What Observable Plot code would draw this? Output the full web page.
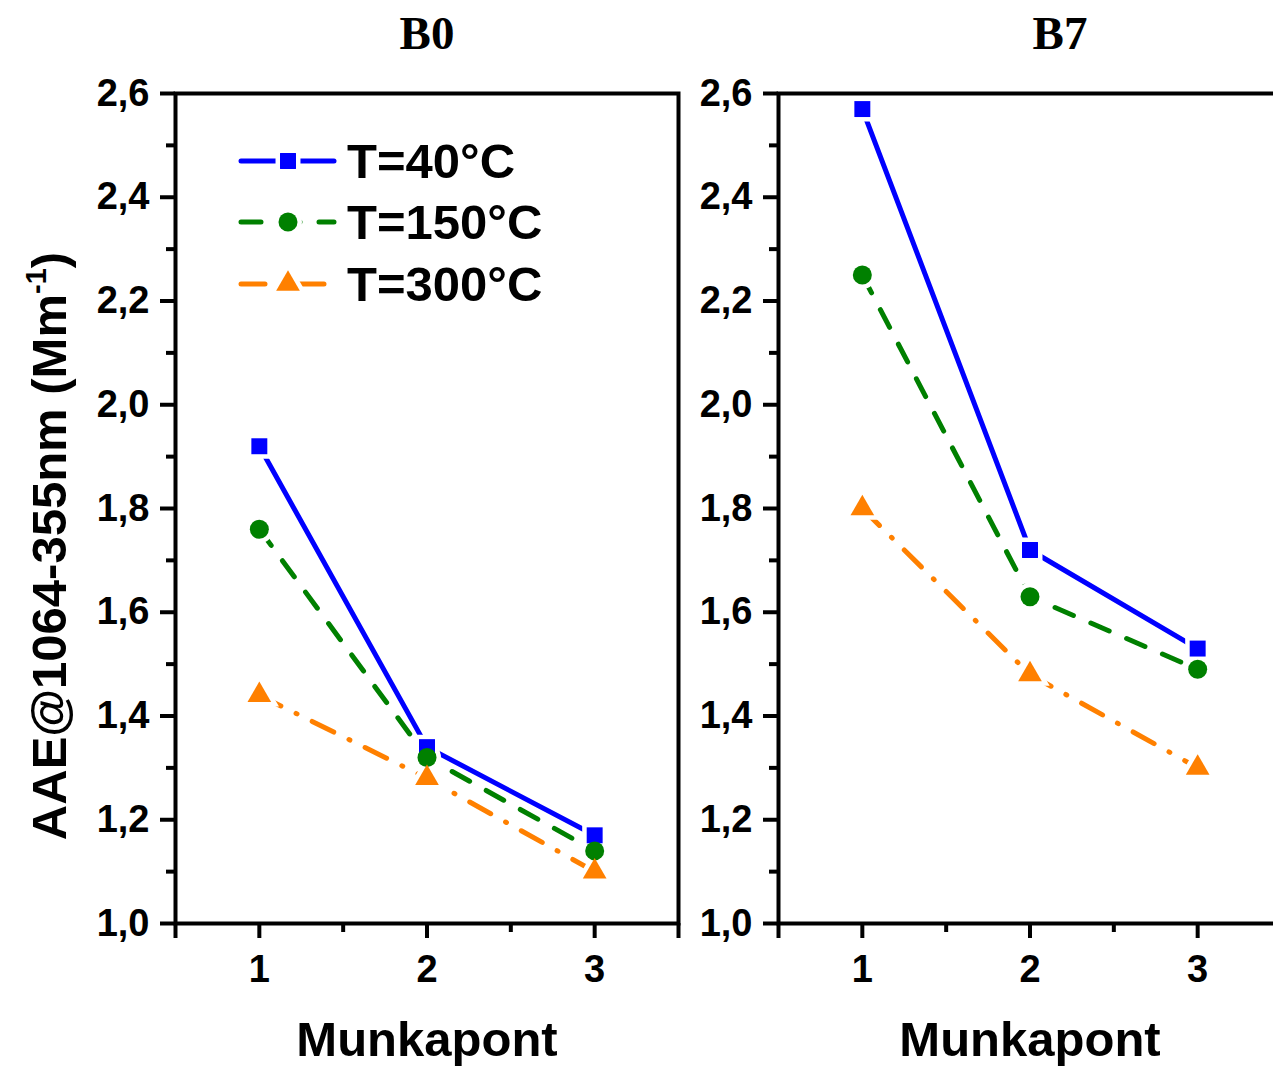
<!DOCTYPE html>
<html><head><meta charset="utf-8">
<script src="https://cdn.jsdelivr.net/npm/d3@7"></script>
<script src="https://cdn.jsdelivr.net/npm/@observablehq/plot@0.6"></script>
<style>
html,body{margin:0;padding:0;background:#fff;}
#page{position:relative;width:1273px;height:1071px;overflow:hidden;background:#fff;}
#page > svg{position:absolute;top:0;}
</style></head>
<body><div id="page"></div>
<script>
// ---- data ----
const munkapont = [1, 2, 3];
const seriesNames = ["T=40°C", "T=150°C", "T=300°C"];
const panelNames = ["B0", "B7"];
const b0T40  = [1.92, 1.34, 1.17];
const b0T150 = [1.76, 1.32, 1.14];
const b0T300 = [1.44, 1.28, 1.10];
const b7T40  = [2.57, 1.72, 1.53];
const b7T150 = [2.25, 1.63, 1.49];
const b7T300 = [1.80, 1.48, 1.30];
const yMajorTicks = [1.0, 1.2, 1.4, 1.6, 1.8, 2.0, 2.2, 2.4, 2.6];
const yMinorTicks = [1.1, 1.3, 1.5, 1.7, 1.9, 2.1, 2.3, 2.5];
const xMajorTicks = [1, 2, 3];
const xEdgeTicks = [0.5, 3.5];
const xMinorTicks = [1.5, 2.5];
const xTitle = "Munkapont";
const yTitleMain = "AAE@1064-355nm (Mm";
const yTitleSup = "-1";
const yTitleEnd = ")";

// ---- styles ----
const SANS = "'Liberation Sans', Arial, Helvetica, sans-serif";
const SERIF = "'Liberation Serif', 'Times New Roman', serif";
const styles = [
  {color: "#0000ff", symbol: "square",   r: 9,   dash: null},
  {color: "#008000", symbol: "circle",   r: 9.5, dash: "20,19"},
  {color: "#ff8000", symbol: "triangle", r: 8.8, dash: "24,17,1,17"}
];
const fmt = d => d.toFixed(1).replace(".", ",");

const page = document.getElementById("page");

function makePanel(name, seriesValues, opt) {
  const rows = seriesValues.map((vals, si) =>
    munkapont.map((m, i) => ({x: m, y: vals[i], s: seriesNames[si]})));
  const marks = [];
  rows.forEach((data, si) => {
    const st = styles[si];
    marks.push(Plot.line(data, {x: "x", y: "y", stroke: st.color, strokeWidth: 5,
      strokeDasharray: st.dash || undefined, strokeLinecap: "round", strokeLinejoin: "round"}));
  });
  rows.forEach((data, si) => {
    const st = styles[si];
    marks.push(Plot.dot(data, {x: "x", y: "y", symbol: st.symbol, r: st.r,
      fill: "white", stroke: "white", strokeWidth: 9}));
  });
  rows.forEach((data, si) => {
    const st = styles[si];
    marks.push(Plot.dot(data, {x: "x", y: "y", symbol: st.symbol, r: st.r,
      fill: st.color, stroke: "none"}));
  });
  marks.push(
    Plot.axisY(yMajorTicks, {anchor: "left", tickSize: 15, tickPadding: 11, strokeWidth: 4,
      tickFormat: fmt, fontSize: 38, fontWeight: "bold", label: null}),
    Plot.axisY(yMinorTicks, {anchor: "left", tickSize: 9, strokeWidth: 4,
      tickFormat: () => "", label: null}),
    Plot.axisX(xMajorTicks, {anchor: "bottom", tickSize: 15, tickPadding: 17, strokeWidth: 4,
      tickFormat: d => String(d), fontSize: 38, fontWeight: "bold", label: null}),
    Plot.axisX(xEdgeTicks, {anchor: "bottom", tickSize: 15, strokeWidth: 4,
      tickFormat: () => "", label: null}),
    Plot.axisX(xMinorTicks, {anchor: "bottom", tickSize: 9, strokeWidth: 4,
      tickFormat: () => "", label: null}),
    Plot.frame({stroke: "black", strokeWidth: 4}),
    Plot.text([name], {frameAnchor: "top", dy: -45, dx: opt.titleDx, lineAnchor: "bottom",
      fontFamily: SERIF, fontWeight: "bold", fontSize: 47, fill: "black"}),
    Plot.text([xTitle], {frameAnchor: "bottom", dy: 132, lineAnchor: "bottom",
      fontFamily: SANS, fontWeight: "bold", fontSize: 49, fill: "black"})
  );
  const svg = Plot.plot({
    width: opt.width, height: 1071,
    marginLeft: opt.marginLeft, marginRight: opt.marginRight,
    marginTop: 93, marginBottom: 148,
    x: {domain: [0.5, 3.5]},
    y: {domain: [1.0, 2.6]},
    style: {fontFamily: SANS, color: "black", background: "white", overflow: "visible"},
    marks
  });
  svg.style.left = opt.left + "px";
  page.appendChild(svg);
  return svg;
}

const left = makePanel(panelNames[0], [b0T40, b0T150, b0T300],
  {width: 700, marginLeft: 175, marginRight: 22, left: 0, titleDx: 0});
const right = makePanel(panelNames[1], [b7T40, b7T150, b7T300],
  {width: 581, marginLeft: 78, marginRight: 0, left: 700, titleDx: 30});

// y axis title (with superscript) on the left panel
const yt = d3.select(left).append("text")
  .attr("transform", "translate(66,546) rotate(-90)")
  .attr("text-anchor", "middle")
  .attr("font-family", SANS).attr("font-weight", "bold").attr("font-size", 49)
  .attr("fill", "black");
yt.append("tspan").text(yTitleMain);
yt.append("tspan").attr("font-size", 29).attr("dy", -20).text(yTitleSup);
yt.append("tspan").attr("font-size", 49).attr("dy", 20).text(yTitleEnd);

// legend (inside left panel)
const leg = d3.select(left).append("g").attr("text-anchor", "start");
const legY = [161, 222, 284];
seriesNames.forEach((nm, i) => {
  const st = styles[i];
  const g = leg.append("g").attr("transform", `translate(0,${legY[i]})`);
  g.append("line").attr("x1", 241).attr("x2", 334).attr("y1", 0).attr("y2", 0)
    .attr("stroke", st.color).attr("stroke-width", 5).attr("stroke-linecap", "round")
    .attr("stroke-dasharray", st.dash || null);
  const sym = d3.symbol(st.symbol === "square" ? d3.symbolSquare : st.symbol === "circle" ? d3.symbolCircle : d3.symbolTriangle,
    st.r * st.r * Math.PI)();
  g.append("path").attr("d", sym).attr("transform", "translate(288,0)")
    .attr("fill", "white").attr("stroke", "white").attr("stroke-width", 9);
  g.append("path").attr("d", sym).attr("transform", "translate(288,0)")
    .attr("fill", st.color);
  g.append("text").attr("x", 347).attr("y", 17).attr("text-anchor", "start")
    .attr("font-family", SANS).attr("font-weight", "bold").attr("font-size", 49)
    .attr("fill", "black").text(nm);
});
</script>
</body></html>
